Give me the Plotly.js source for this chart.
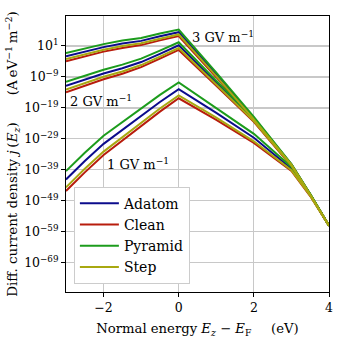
<!DOCTYPE html>
<html>
<head>
<meta charset="utf-8">
<script src="https://cdn.plot.ly/plotly-3.0.1.min.js"></script>
<style>
	html, body { margin: 0; padding: 0; background: #fff; }
	#chart { width: 338px; height: 338px; }
</style>
</head>
<body>
<div id="chart"></div>
<script>
"use strict";

// normal energy Ez - EF (eV)
var energy = [-3, -2.5, -2, -1.5, -1, -0.5, 0, 1, 2, 3, 3.5, 4];

// log10 of j(Ez), one array per surface and field
var adatom3 = [-2.37, -0.88, 0.61, 1.78, 2.62, 4.11, 5.43, -8.22, -22.33, -37.22, -46.86, -56.99];
var clean3 = [-3.92, -2.40, -0.84, 0.35, 1.26, 2.78, 4.17, -9.10, -23.01, -37.41, -46.96, -56.99];
var pyramid3 = [-1.33, 0.13, 1.58, 2.72, 3.53, 4.98, 6.28, -7.64, -21.88, -37.09, -46.80, -56.99];
var step3 = [-3.27, -1.77, -0.23, 0.94, 1.83, 3.33, 4.69, -8.74, -22.72, -37.33, -46.93, -56.99];

var adatom2 = [-11.91, -9.91, -7.90, -6.22, -4.21, -1.56, 1.19, -10.88, -22.92, -37.54, -47.03, -56.99];
var clean2 = [-13.95, -11.85, -9.74, -7.96, -5.86, -3.11, -0.29, -11.85, -23.50, -37.74, -47.12, -56.99];
var pyramid2 = [-10.55, -8.61, -6.67, -5.05, -3.11, -0.52, 2.17, -10.23, -22.53, -37.41, -46.96, -56.99];
var step2 = [-13.11, -11.04, -8.97, -7.24, -5.18, -2.46, 0.32, -11.44, -23.26, -37.66, -47.09, -56.99];

var adatom1 = [-42.1, -36.15, -30.6, -26.0, -21.4, -17.1, -12.95, -20.59, -28.61, -38.61, -47.06, -56.99];
var clean1 = [-45.8, -39.8, -34.2, -29.5, -24.7, -20.2, -15.9, -22.85, -30.29, -39.36, -47.45, -56.99];
var pyramid1 = [-39.4, -33.5, -28.0, -23.5, -19.0, -14.8, -10.8, -18.97, -27.38, -38.06, -46.80, -56.99];
var step1 = [-44.65, -38.65, -33.1, -28.4, -23.7, -19.2, -15.0, -22.14, -29.78, -39.13, -47.32, -56.99];

var surfaces = ["Adatom", "Clean", "Pyramid", "Step"];
var colors = ["#0c0c8c", "#b81c0c", "#1c9c1c", "#a8a810"];
var series = [
	[adatom1, adatom2, adatom3],
	[clean1, clean2, clean3],
	[pyramid1, pyramid2, pyramid3],
	[step1, step2, step3]
];

var yexp = [1, -9, -19, -29, -39, -49, -59, -69];

var font = "DejaVu Serif";

function build() {
	let data = [];
	for (let s = 0; s < surfaces.length; s++) {
		for (let f = 0; f < 3; f++) {
			data.push({
				x: energy,
				y: series[s][f].map(function (e) { return Math.pow(10, e); }),
				mode: "lines",
				name: surfaces[s],
				showlegend: f === 0,
				line: { color: colors[s], width: 2 }
			});
		}
	}

	let layout = {
		width: 338,
		height: 338,
		margin: { l: 66, r: 9, t: 16, b: 46 },
		paper_bgcolor: "#fff",
		plot_bgcolor: "#fff",
		font: { family: font, size: 13, color: "#000" },
		showlegend: true,
		legend: {
			x: 0.03, y: 0.03, xanchor: "left", yanchor: "bottom",
			bgcolor: "#fff", bordercolor: "#cccccc", borderwidth: 1,
			tracegroupgap: 0, itemwidth: 39,
			font: { family: font, size: 14, color: "#000" }
		},
		xaxis: {
			range: [-3, 4],
			tickvals: [-2, 0, 2, 4],
			ticktext: ["\u22122", "0", "2", "4"],
			ticks: "outside", ticklen: 4, tickcolor: "#000",
			showline: true, linecolor: "#000", linewidth: 1, mirror: true,
			showgrid: true, gridcolor: "#c8c8c8", gridwidth: 1.2,
			zeroline: false,
			tickfont: { family: font, size: 12.5 },
			title: { text: "Normal energy <i>E</i><sub><i>z</i></sub> \u2212 <i>E</i><sub>F</sub>\u2003\u2002(eV)", font: { family: font, size: 13.2 } }
		},
		yaxis: {
			type: "log",
			range: [-78.4, 10.65],
			tickvals: yexp.map(function (e) { return Math.pow(10, e); }),
			ticktext: yexp.map(function (e) { return "10<sup>" + String(e).replace("-", "\u2212") + "</sup>"; }),
			ticks: "outside", ticklen: 4, tickcolor: "#000",
			showline: true, linecolor: "#000", linewidth: 1, mirror: true,
			showgrid: true, gridcolor: "#c8c8c8", gridwidth: 1.2,
			zeroline: false,
			tickfont: { family: font, size: 12.5 },
			title: { text: "Diff. current density <i>j</i>\u2009(<i>E</i><sub><i>z</i></sub>)\u2003\u2003(A\u2009eV<sup>\u22121</sup>\u2009m<sup>\u22122</sup>)", font: { family: font, size: 13.5 } }
		},
		annotations: [
			{ text: "3 GV m<sup>\u22121</sup>", x: 0.3, y: 4.0, xref: "x", yref: "y", xanchor: "left", yanchor: "middle", showarrow: false, font: { family: font, size: 13 } },
			{ text: "2 GV m<sup>\u22121</sup>", x: -2.95, y: -16.7, xref: "x", yref: "y", xanchor: "left", yanchor: "middle", showarrow: false, font: { family: font, size: 13 } },
			{ text: "1 GV m<sup>\u22121</sup>", x: -1.97, y: -37.2, xref: "x", yref: "y", xanchor: "left", yanchor: "middle", showarrow: false, font: { family: font, size: 13 } }
		]
	};

	return Plotly.newPlot("chart", data, layout, { staticPlot: true });
} //build

window.addEventListener("DOMContentLoaded", build);
</script>
</body>
</html>
